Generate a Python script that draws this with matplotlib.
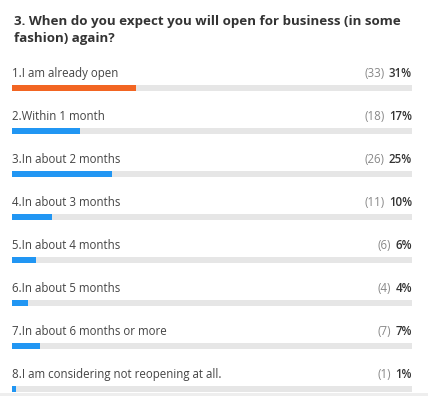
import matplotlib.pyplot as plt
from matplotlib.transforms import offset_copy

# survey answers
labels = ["1.I am already open", "2.Within 1 month", "3.In about 2 months",
          "4.In about 3 months", "5.In about 4 months", "6.In about 5 months",
          "7.In about 6 months or more", "8.I am considering not reopening at all."]
counts = [33, 18, 26, 11, 6, 4, 7, 1]
percents = [31, 17, 25, 10, 6, 4, 7, 1]
title = "3. When do you expect you will open for business (in some\nfashion) again?"

W, H = 428, 396
fig = plt.figure(figsize=(W / 100, H / 100), dpi=100)
fig.patch.set_facecolor("white")

# bottom strip
strip = fig.add_axes([0, 0, 1, 3 / H])
strip.set_axis_off()
strip.add_patch(plt.Rectangle((0, 0), 1, 1, color="#EEEEEE", transform=strip.transAxes))

fig.text(14 / W, 1 - 30 / H, title, fontsize=9.6, fontweight="bold", color="#333333",
         family="Open Sans", va="center", ha="left", linespacing=1.45)

# axes covering the bar tracks: row i bar centered at pixel 88 + 43*i
x0, x1 = 12, 412
top_px, bot_px = 60, 393
ax = fig.add_axes([x0 / W, 1 - bot_px / H, (x1 - x0) / W, (bot_px - top_px) / H])
ax.set_xlim(0, 100)
ax.set_ylim((bot_px - 88) / 43, (top_px - 88) / 43)
ax.set_axis_off()

rows = range(len(labels))
ax.barh(rows, [100] * len(labels), height=0.14, color="#E6E6E6")
colors = ["#F26522"] + ["#2196F3"] * (len(labels) - 1)
ax.barh(rows, percents, height=0.14, color=colors)

renderer = fig.canvas.get_renderer()
for i, (lab, c, p) in enumerate(zip(labels, counts, percents)):
    ax.text(0, i - 0.33, lab, fontsize=8.3, color="#444444", family="Open Sans",
            va="center", ha="left")
    pt = ax.text(100, i - 0.33, f"{p}%", fontsize=8.3, color="#333333", family="Open Sans",
                 fontweight="semibold", va="center", ha="right")
    w = pt.get_window_extent(renderer).width
    tr = offset_copy(ax.transData, fig=fig, x=-(w + 4), y=0, units="dots")
    ax.text(100, i - 0.33, f"({c})", transform=tr, fontsize=8.3, color="#888888",
            family="Open Sans", va="center", ha="right")

fig.savefig("out.png", dpi=100)
